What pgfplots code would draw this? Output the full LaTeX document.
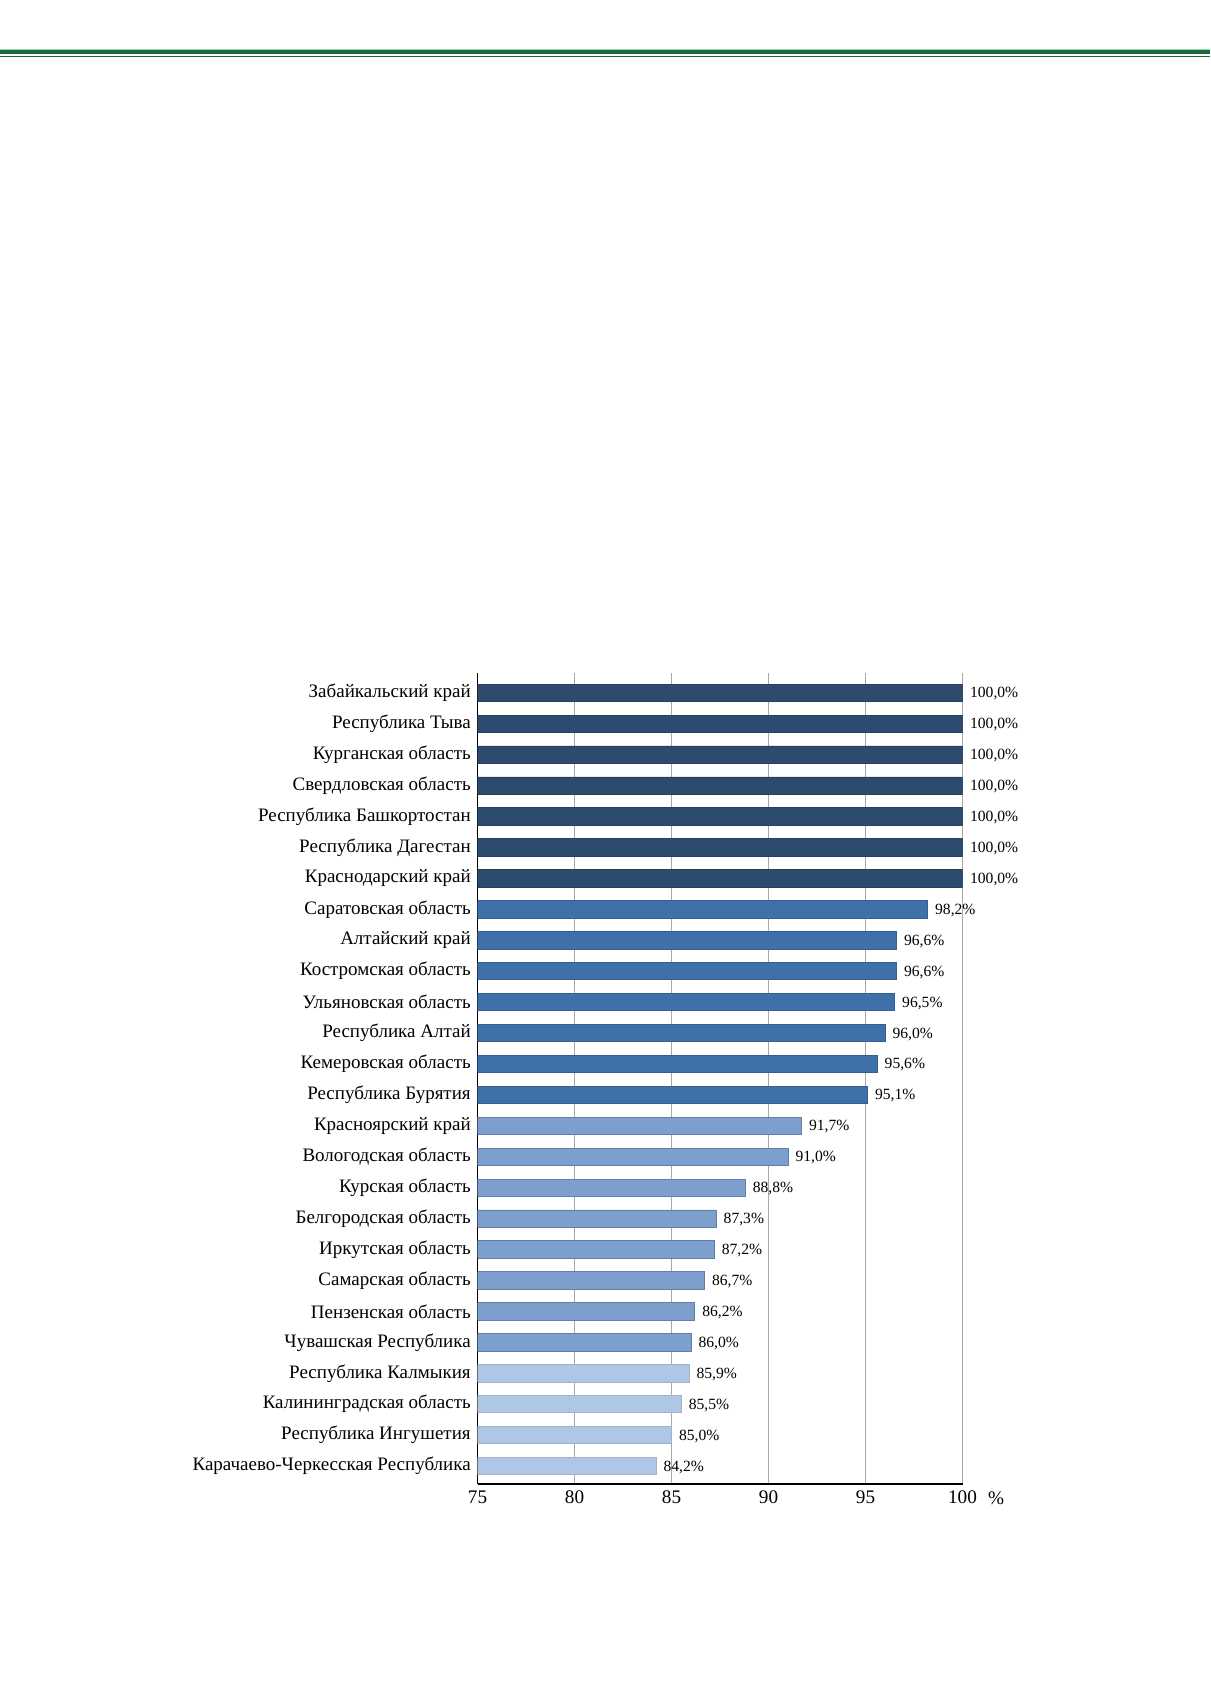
\documentclass[border=0pt]{standalone}
\usepackage{pgfplots}
\pgfplotsset{compat=1.18}
\usepackage{fontspec}
\setmainfont{Liberation Serif}
\definecolor{gdark}{HTML}{1B6A3C}
\definecolor{glight}{HTML}{9ED4B0}
\definecolor{cdark}{HTML}{2D4A6F}
\definecolor{cmid}{HTML}{4070AA}
\definecolor{clight}{HTML}{7C9FCE}
\definecolor{clightest}{HTML}{AFC7E6}
\definecolor{gridc}{HTML}{A8A8A8}
\begin{document}
\begin{tikzpicture}
\path[use as bounding box] (0,0) rectangle (605pt,840.5pt);
% header rules
\draw[glight, line width=0.6pt] (0,815.8pt) -- (605pt,815.8pt);
\draw[gdark, line width=1.9pt] (0,814.5pt) -- (605pt,814.5pt);
\draw[gdark, line width=0.6pt] (0,812.4pt) -- (605pt,812.4pt);
\begin{axis}[
  at={(238.75pt,98.5pt)}, anchor=south west,
  scale only axis, width=242.5pt, height=405.5pt,
  xbar, bar width=0.56, bar shift=0pt,
  xmin=75, xmax=100, ymin=-0.64, ymax=25.58,
  y dir=reverse,
  axis x line*=bottom, axis y line*=left,
  axis line style={black, line width=0.6pt},
  xtick={75,80,85,90,95,100},
  ytick={0,...,25},
  yticklabels={Забайкальский край, Республика Тыва, Курганская область, Свердловская область, Республика Башкортостан, Республика Дагестан, Краснодарский край, Саратовская область, Алтайский край, Костромская область, Ульяновская область, Республика Алтай, Кемеровская область, Республика Бурятия, Красноярский край, Вологодская область, Курская область, Белгородская область, Иркутская область, Самарская область, Пензенская область, Чувашская Республика, Республика Калмыкия, Калининградская область, Республика Ингушетия, Карачаево-Черкесская Республика},
  major tick length=0pt,
  xmajorgrids, grid style={gridc, line width=0.5pt},
  /pgf/number format/assume math mode=true,
  xticklabel style={font=\fontsize{9.6}{11}\selectfont, anchor=north, inner sep=0pt, yshift=-3.3pt},
  yticklabel style={font=\fontsize{9.5}{11}\selectfont, anchor=east, inner sep=0pt, xshift=-3.2pt},
  nodes near coords={\pgfmathprintnumber[fixed,fixed zerofill,precision=1,use comma]{\pgfplotspointmeta}\%},
  nodes near coords style={font=\fontsize{7.8}{9}\selectfont, anchor=west, inner sep=0pt, xshift=3.6pt, yshift=-0.5pt, text=black},
  point meta=x,
]
\addplot[fill=cdark, draw=cdark!85!black, line width=0.4pt] coordinates {
(100,0) (100,1) (100,2) (100,3) (100,4) (100,5) (100,6)};
\addplot[fill=cmid, draw=cmid!85!black, line width=0.4pt] coordinates {
(98.2,7) (96.6,8) (96.6,9) (96.5,10) (96.0,11) (95.6,12) (95.1,13)};
\addplot[fill=clight, draw=clight!80!black, line width=0.4pt] coordinates {
(91.7,14) (91.0,15) (88.8,16) (87.3,17) (87.2,18) (86.7,19) (86.2,20) (86.0,21)};
\addplot[fill=clightest, draw=clightest!70!gray, line width=0.4pt] coordinates {
(85.9,22) (85.5,23) (85.0,24) (84.2,25)};
\end{axis}
\node[font=\fontsize{9.6}{11}\selectfont, inner sep=0pt] at (498pt,91.5pt) {\%};
\end{tikzpicture}
\end{document}
